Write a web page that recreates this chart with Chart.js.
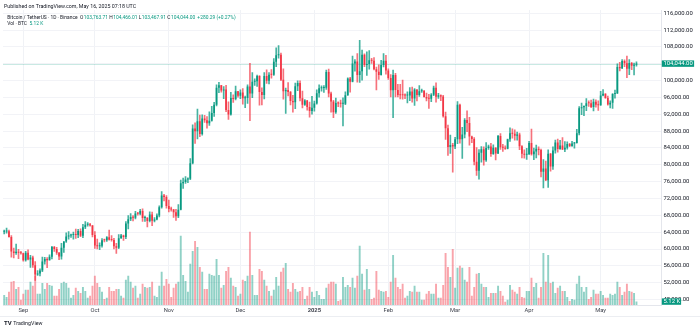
<!DOCTYPE html>
<html>
<head>
<meta charset="utf-8">
<title>Bitcoin / TetherUS 1D</title>
<script src="https://cdn.jsdelivr.net/npm/chart.js@4.4.1/dist/chart.umd.min.js"></script>
<style>
  html, body { margin: 0; padding: 0; background: #fff; }
  #wrap { width: 700px; height: 330px; }
</style>
</head>
<body>
<div id="wrap"><canvas id="btcChart" width="700" height="330"></canvas></div>
<script>
// daily candles, Binance BTCUSDT, 2024-08-24 .. 2025-05-16
const firstDay = '2024-08-24';
const emptySlots = 10;

const opens = [
  64094, 64178, 64220, 62834, 59415, 59034, 59359, 59123,
  58973, 57301, 59132, 57487, 57970, 56160, 53950, 54160, 54869, 57042, 57635, 57338, 58132, 60498, 59993, 59132, 58213, 60309, 61759, 62947, 63201, 63348, 63578, 63339, 64262, 63152, 65173, 65769, 65858, 65602,
  63327, 60805, 60649, 60752, 62086, 62058, 62820, 62224, 62160, 60636, 60326, 62540, 63206, 62870, 66083, 67074, 67620, 67421, 68428, 68378, 69032, 67378, 67426, 66668, 68198, 66698, 67012, 67939, 69907, 72720, 72339,
  70215, 69482, 69358, 68727, 67800, 69340, 75640, 75904, 76539, 76688, 80370, 88647, 87953, 90375, 87325, 91032, 90587, 89855, 90465, 92310, 94286, 98317, 98892, 97672, 97900, 93010, 91965, 95863, 95643, 97460,
  96407, 97185, 95840, 95849, 98587, 96945, 99740, 99831, 101109, 97276, 96593, 101125, 100004, 101424, 101420, 104463, 106058, 106133, 100204, 97461, 97805, 97291, 95186, 94878, 98663, 99429, 95792, 94299, 95300, 93738, 92792,
  93577, 94592, 96985, 98174, 98236, 98314, 102078, 96923, 95043, 92484, 94701, 94566, 94488, 94516, 96534, 100504, 99756, 104078, 104556, 101331, 102260, 106143, 103706, 103960, 104820, 104714, 102682, 102088, 101332, 103733, 104722,
  102430, 100636, 97700, 101328, 97763, 96612, 96555, 96506, 96444, 96462, 97430, 95778, 97869, 96608, 97500, 97569, 96118, 95780, 95671, 96644, 98305, 96181, 96551, 96258, 91552, 88680, 84250, 84708,
  84349, 86064, 94270, 86065, 87222, 90623, 89961, 86742, 86154, 80734, 78596, 82862, 83722, 81067, 83969, 84343, 82580, 84075, 82719, 86855, 84167, 84043, 83832, 86054, 87498, 87392, 86909, 87232, 84424, 82648, 82390,
  82550, 85159, 82517, 83158, 83842, 83504, 78368, 79140, 76322, 82615, 79607, 83424, 85276, 83760, 84591, 83643, 84031, 84947, 84474, 85060, 85171, 87519, 93442, 93691, 93980, 94638, 94631, 93754, 94978, 94284,
  94172, 96490, 96910, 95891, 94315, 94748, 96802, 97032, 103241, 102971, 104696, 104106, 102812, 104170, 103539, 103763.71
];
const highs = [
  64525, 65000, 64482, 63212, 60235, 61166, 59944, 59462,
  59054, 59425, 59809, 58520, 58327, 56995, 54850, 55318, 58100, 58044, 57981, 58588, 60625, 60610, 60381, 59210, 61320, 61786, 63850, 64133, 63559, 64000, 64745, 64688, 64817, 65839, 66498, 66260, 66076, 65618,
  64130, 62370, 61477, 62484, 62370, 62975, 64478, 63200, 62543, 61321, 63417, 63480, 63285, 66500, 67950, 68424, 67939, 68969, 68694, 69400, 69520, 67836, 67472, 68850, 68800, 67454, 68332, 70270, 73620, 72961, 72700,
  71632, 69960, 69403, 69432, 70577, 76400, 76850, 77199, 76932, 81500, 89530, 89956, 93265, 91790, 91850, 91779, 91449, 92594, 93905, 94831, 98988, 99588, 98900, 98564, 98871, 94973, 97208, 96650, 98693, 97463,
  97836, 98130, 96305, 99000, 104088, 101898, 100439, 101350, 101215, 98270, 101888, 102540, 101895, 102650, 105250, 107793, 108353, 106524, 102800, 98233, 99540, 97448, 96538, 99416, 99963, 99963, 97544, 95500, 95340, 94903, 96250,
  95150, 97840, 98976, 98778, 98814, 102482, 102724, 97258, 95349, 95836, 94977, 95400, 95940, 97371, 100681, 100782, 105865, 104988, 106422, 109588, 107240, 106394, 106850, 107120, 105286, 105500, 103221, 103783, 104800, 106457, 106012,
  102783, 101456, 102500, 101744, 99149, 99120, 100137, 96880, 97323, 98345, 98478, 98119, 97869, 98826, 97972, 97725, 97046, 96753, 96899, 98711, 99475, 96980, 96650, 96500, 92541, 89414, 87078, 85120,
  86558, 95000, 94417, 88911, 90998, 92810, 91283, 86847, 86471, 84123, 83617, 84358, 84300, 85309, 84672, 85115, 84756, 84075, 87000, 87443, 84850, 84513, 86094, 88765, 88542, 88293, 87786, 87515, 84567, 83534, 83943,
  85579, 88500, 83998, 84720, 84266, 83756, 81243, 80867, 83588, 82753, 84300, 85905, 86100, 85800, 86496, 85500, 85470, 85132, 85595, 85320, 88460, 93817, 94696, 94000, 95758, 95199, 95369, 95600, 95461, 95200,
  97438, 97895, 96941, 96318, 95199, 96920, 97732, 103969, 104361, 104984, 104937, 105819, 104976, 104335, 104192, 104466.01
];
const lows = [
  63560, 63773, 62800, 58034, 57860, 58713, 57700, 58744,
  57118, 57128, 57415, 55606, 55643, 52550, 53745, 53629, 54591, 56386, 55545, 57324, 57632, 59400, 58696, 57493, 57610, 59174, 61555, 62350, 62758, 62357, 62538, 62700, 62947, 62670, 64819, 65422, 65432, 62856,
  60164, 59996, 59828, 60460, 61689, 61798, 62128, 61860, 60000, 58946, 60087, 62487, 62050, 62457, 64800, 66750, 66666, 67177, 68010, 68102, 66565, 66571, 65260, 66457, 65521, 66439, 66913, 67618, 69730, 71436, 69685,
  68820, 68972, 67478, 66803, 67458, 69299, 74417, 75562, 75773, 76493, 80216, 85072, 86127, 86668, 87073, 90056, 88723, 89376, 90357, 91500, 94000, 97122, 97233, 95734, 92600, 90791, 91792, 94827, 95407, 96092,
  95693, 94395, 93578, 94587, 90500, 95981, 98844, 98657, 94150, 94256, 95658, 99311, 99205, 100610, 101237, 103333, 105321, 100000, 95587, 92232, 96398, 94250, 92520, 93365, 97596, 95199, 93500, 94118, 93009, 91317, 92033,
  92743, 94392, 96100, 97514, 97200, 97900, 96132, 92500, 91220, 92206, 93840, 93712, 89256, 94306, 96500, 97278, 99700, 102277, 99651, 99550, 100119, 103339, 101262, 102750, 104106, 102520, 97777, 100278, 101328, 103278, 101560,
  100279, 96150, 91231, 96150, 96155, 95676, 95620, 95688, 94713, 95256, 94876, 94088, 95205, 96252, 97223, 96055, 95205, 93388, 95029, 96415, 94871, 95770, 95227, 91349, 86050, 82257, 82717, 78258,
  83824, 85050, 85117, 81529, 86379, 87852, 84667, 85247, 80000, 77459, 76606, 80635, 79931, 80818, 83636, 82019, 82457, 81180, 82629, 83647, 83175, 83675, 83794, 85542, 86346, 85861, 85837, 83585, 81644, 81565, 81279,
  82432, 82320, 81211, 81659, 82379, 77153, 74508, 76239, 74620, 78464, 78936, 82792, 83034, 83678, 83600, 83111, 83736, 84303, 84376, 83949, 85144, 87076, 91935, 91660, 92855, 93871, 93602, 92800, 93720, 92910,
  94136, 96350, 95753, 94173, 93514, 93377, 95840, 96913, 102316, 102818, 103346, 100718, 101430, 102631, 101383, 103467.91
];
const closes = [
  64178, 64220, 62834, 59415, 59034, 59359, 59123, 58973,
  57301, 59132, 57487, 57970, 56160, 53950, 54160, 54869, 57042, 57635, 57338, 58132, 60498, 59993, 59132, 58213, 60309, 61759, 62947, 63201, 63348, 63578, 63339, 64262, 63152, 65173, 65769, 65858, 65602, 63327,
  60805, 60649, 60752, 62086, 62058, 62820, 62224, 62160, 60636, 60326, 62540, 63206, 62870, 66083, 67074, 67620, 67421, 68428, 68378, 69032, 67378, 67426, 66668, 68198, 66698, 67012, 67939, 69907, 72720, 72339, 70215,
  69482, 69358, 68727, 67800, 69340, 75640, 75904, 76539, 76688, 80370, 88647, 87953, 90375, 87325, 91032, 90587, 89855, 90465, 92310, 94286, 98317, 98892, 97672, 97900, 93010, 91965, 95863, 95643, 97460, 96407,
  97185, 95840, 95849, 98587, 96945, 99740, 99831, 101109, 97276, 96593, 101125, 100004, 101424, 101420, 104463, 106058, 106133, 100204, 97461, 97805, 97291, 95186, 94878, 98663, 99429, 95792, 94299, 95300, 93738, 92792, 93577,
  94592, 96985, 98174, 98236, 98314, 102078, 96923, 95043, 92484, 94701, 94566, 94488, 94516, 96534, 100504, 99756, 104078, 104556, 101331, 102260, 106143, 103706, 103960, 104820, 104714, 102682, 102088, 101332, 103733, 104722, 102430,
  100636, 97700, 101328, 97763, 96612, 96555, 96506, 96444, 96462, 97430, 95778, 97869, 96608, 97500, 97569, 96118, 95780, 95671, 96644, 98305, 96181, 96551, 96258, 91552, 88680, 84250, 84708, 84349,
  86064, 94270, 86065, 87222, 90623, 89961, 86742, 86154, 80734, 78596, 82862, 83722, 81067, 83969, 84343, 82580, 84075, 82719, 86855, 84167, 84043, 83832, 86054, 87498, 87392, 86909, 87232, 84424, 82648, 82390, 82550,
  85159, 82517, 83158, 83842, 83504, 78368, 79140, 76322, 82615, 79607, 83424, 85276, 83760, 84591, 83643, 84031, 84947, 84474, 85060, 85171, 87519, 93442, 93691, 93980, 94638, 94631, 93754, 94978, 94284, 94172,
  96490, 96910, 95891, 94315, 94748, 96802, 97032, 103241, 102971, 104696, 104106, 102812, 104170, 103539, 103763.71, 104044.00
];
// volume, thousand BTC
const volumes = [
  15, 12, 20, 35, 36, 24, 27, 8,
  17, 23, 23, 35, 29, 44, 17, 17, 33, 24, 33, 30, 29, 14, 14, 24, 33, 35, 33, 26, 11, 15, 26, 21, 18, 27, 21, 11, 14, 29,
  44, 33, 27, 20, 9, 11, 27, 21, 21, 24, 24, 14, 11, 38, 44, 35, 26, 29, 11, 17, 32, 27, 26, 27, 35, 14, 12, 29, 50, 29, 39,
  32, 12, 26, 32, 35, 104, 45, 36, 20, 62, 81, 96, 87, 57, 50, 24, 24, 47, 45, 44, 69, 45, 26, 30, 51, 57, 41, 29, 27, 14,
  17, 38, 36, 44, 110, 45, 15, 15, 54, 51, 38, 29, 21, 14, 23, 42, 29, 50, 56, 63, 24, 20, 33, 24, 20, 21, 27, 9, 14, 27, 20,
  12, 21, 15, 9, 9, 26, 32, 35, 35, 32, 6, 8, 42, 27, 30, 27, 41, 26, 44, 89, 47, 23, 54, 24, 9, 11, 51, 23, 21, 20, 21,
  12, 35, 75, 41, 27, 24, 32, 11, 14, 21, 20, 29, 20, 20, 8, 8, 17, 21, 17, 17, 32, 11, 11, 30, 78, 57, 42, 84,
  26, 56, 59, 56, 38, 35, 57, 14, 27, 47, 48, 32, 27, 27, 12, 18, 18, 18, 29, 21, 14, 5, 8, 30, 23, 20, 17, 27, 12, 11, 21,
  21, 41, 27, 33, 11, 27, 78, 35, 75, 33, 35, 18, 26, 29, 21, 21, 12, 6, 9, 8, 32, 44, 27, 20, 27, 9, 12, 23, 17, 17,
  21, 15, 11, 11, 17, 15, 17, 35, 27, 15, 20, 32, 21, 20, 18, 5.12
];

const priceTicks = [48000, 52000, 56000, 60000, 64000, 68000, 72000, 76000, 80000, 84000, 88000, 92000, 96000, 100000, 104000, 108000, 112000, 116000];
const xTickDates = ['2024-09-01', '2024-10-01', '2024-11-01', '2024-12-01', '2025-01-01', '2025-02-01', '2025-03-01', '2025-04-01', '2025-05-01'];
const xTickLabels = ['Sep', 'Oct', 'Nov', 'Dec', '2025', 'Feb', 'Mar', 'Apr', 'May'];

const UP = '#089981';
const DOWN = '#f23645';
const TEXT = '#131722';

// one category per calendar day, plus empty room on the right
const dates = [];
const start = new Date(firstDay + 'T00:00:00Z');
for (let i = 0; i < closes.length; i++) {
  dates.push(new Date(start.getTime() + i * 86400000).toISOString().slice(0, 10));
}
for (let i = 0; i < emptySlots; i++) dates.push('');

const isUp = closes.map((c, i) => c >= opens[i]);
const fmt = v => v.toLocaleString('en-US', { minimumFractionDigits: 2, maximumFractionDigits: 2 });

Chart.defaults.font.family = "Roboto, 'Noto Sans', sans-serif";

const overlay = {
  id: 'overlay',
  beforeDatasetsDraw(chart) {
    const { ctx, chartArea: a, scales: { y } } = chart;
    const py = Math.round(y.getPixelForValue(closes[closes.length - 1])) + 0.5;
    ctx.save();
    ctx.strokeStyle = 'rgba(8,153,129,0.22)';
    ctx.lineWidth = 1;
    ctx.beginPath();
    ctx.moveTo(a.left, py);
    ctx.lineTo(a.right, py);
    ctx.stroke();
    ctx.restore();
  },
  afterDraw(chart) {
    const { ctx, chartArea: a, scales: { y, yv } } = chart;
    const n = closes.length - 1;
    ctx.save();
    ctx.textBaseline = 'middle';

    // header
    ctx.font = '5.3px Roboto';
    ctx.fillStyle = TEXT;
    ctx.fillText('Published on TradingView.com, May 16, 2025 07:18 UTC', 4, 6.7);

    // legend
    ctx.font = '4.9px Roboto';
    const chg = closes[n] - closes[n - 1];
    const pct = chg / closes[n - 1] * 100;
    const parts = [
      ['Bitcoin / TetherUS · 1D · Binance', TEXT, 2.5],
      ['O', TEXT, 0.4], [fmt(opens[n]), UP, 1.3],
      ['H', TEXT, 0.4], [fmt(highs[n]), UP, 1.3],
      ['L', TEXT, 0.4], [fmt(lows[n]), UP, 1.3],
      ['C', TEXT, 0.4], [fmt(closes[n]), UP, 2.2],
      ['+' + fmt(chg) + ' (+' + pct.toFixed(2) + '%)', UP, 0]
    ];
    let x = 7.3;
    parts.forEach(p => {
      ctx.fillStyle = p[1];
      ctx.fillText(p[0], x, 17.3);
      x += ctx.measureText(p[0]).width + p[2];
    });
    x = 7.3;
    [['Vol · BTC', TEXT, 2.5], [volumes[n].toFixed(2) + ' K', UP, 0]].forEach(p => {
      ctx.fillStyle = p[1];
      ctx.fillText(p[0], x, 24);
      x += ctx.measureText(p[0]).width + p[2];
    });

    // price tag
    ctx.font = '5.9px Roboto';
    const py = y.getPixelForValue(closes[n]);
    ctx.fillStyle = UP;
    ctx.fillRect(a.right + 0.3, py - 3.2, 32.3, 6.4);
    ctx.fillStyle = '#fff';
    ctx.fillText(fmt(closes[n]), a.right + 2, py);

    // volume tag
    const vy = yv.getPixelForValue(volumes[n]);
    ctx.fillStyle = isUp[n] ? UP : DOWN;
    ctx.fillRect(a.right + 0.3, vy - 3.2, 19.3, 6.4);
    ctx.fillStyle = '#fff';
    ctx.fillText(volumes[n].toFixed(2) + ' K', a.right + 2, vy);

    // frame line under time axis
    ctx.fillStyle = '#eceef2';
    ctx.fillRect(0, 316, 700, 1);

    // logo
    ctx.fillStyle = TEXT;
    ctx.font = 'bold 6px Roboto';
    ctx.fillText('TV', 4, 323.5);
    ctx.font = '5.3px Roboto';
    ctx.fillText('TradingView', 13.3, 323.5);
    ctx.restore();
  }
};

new Chart(document.getElementById('btcChart'), {
  type: 'bar',
  data: {
    labels: dates,
    datasets: [
      {
        label: 'Candle',
        data: closes.map((c, i) => [opens[i], c]),
        backgroundColor: isUp.map(u => u ? UP : DOWN),
        grouped: false,
        barPercentage: 0.7,
        categoryPercentage: 1,
        minBarLength: 1,
        order: 1
      },
      {
        label: 'Wick',
        data: closes.map((c, i) => [lows[i], highs[i]]),
        backgroundColor: isUp.map(u => u ? 'rgba(8,153,129,0.75)' : 'rgba(242,54,69,0.7)'),
        grouped: false,
        barThickness: 1,
        order: 2
      },
      {
        label: 'Volume',
        data: volumes,
        yAxisID: 'yv',
        backgroundColor: isUp.map(u => u ? 'rgba(8,153,129,0.45)' : 'rgba(242,54,69,0.45)'),
        grouped: false,
        barPercentage: 0.8,
        categoryPercentage: 1,
        order: 3
      }
    ]
  },
  options: {
    responsive: false,
    devicePixelRatio: 1,
    animation: false,
    events: [],
    layout: { padding: { left: 3, top: 10, right: 0, bottom: 0 } },
    plugins: {
      legend: { display: false },
      tooltip: { enabled: false }
    },
    scales: {
      x: {
        offset: true,
        grid: { offset: false, color: '#f0f2f6', drawTicks: false },
        border: { display: true, color: '#e4e6ec' },
        ticks: {
          autoSkip: false,
          maxRotation: 0,
          padding: 2.5,
          color: '#40444f',
          font: ctx => ({ size: 5.8, weight: ctx.tick && ctx.tick.label === '2025' ? 'bold' : 'normal' }),
          callback: function (v) {
            const k = xTickDates.indexOf(dates[v]);
            return k < 0 ? null : xTickLabels[k];
          }
        },
        afterFit(s) { s.height = 25; }
      },
      y: {
        position: 'right',
        min: 46696,
        max: 116784,
        afterBuildTicks(s) { s.ticks = priceTicks.map(v => ({ value: v })); },
        grid: { color: '#f2f3f7', drawTicks: false },
        border: { display: true, color: '#e4e6ec' },
        ticks: {
          padding: 2,
          color: TEXT,
          font: { size: 5.9 },
          callback: v => fmt(v)
        },
        afterFit(s) { s.width = 38.5; }
      },
      yv: {
        display: false,
        min: 0,
        max: 442.5
      }
    }
  },
  plugins: [overlay]
});
</script>
</body>
</html>
